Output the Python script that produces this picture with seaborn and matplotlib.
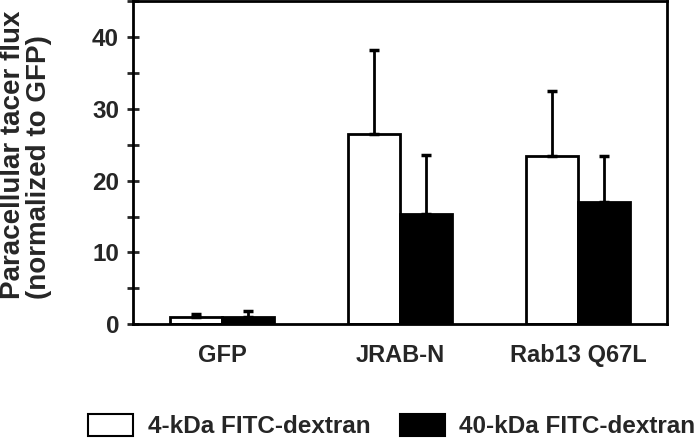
import pandas as pd
import numpy as np
import matplotlib
matplotlib.use("Agg")
import matplotlib.pyplot as plt
import seaborn as sns
from matplotlib.patches import Patch
from matplotlib.ticker import MultipleLocator

# data
groups = ["GFP", "JRAB-N", "Rab13 Q67L"]
series = ["4-kDa FITC-dextran", "40-kDa FITC-dextran"]
flux_4kda = [1.0, 26.5, 23.5]
flux_40kda = [1.0, 15.4, 17.0]
err_4kda = [0.4, 11.7, 9.0]
err_40kda = [0.9, 8.2, 6.5]

df = pd.DataFrame({
    "group": groups * 2,
    "tracer": [series[0]] * 3 + [series[1]] * 3,
    "flux": flux_4kda + flux_40kda,
    "err": err_4kda + err_40kda,
})

sns.set_style("white")
plt.rcParams["font.family"] = ["Liberation Sans", "DejaVu Sans"]
plt.rcParams["font.weight"] = "bold"

fig = plt.figure(figsize=(7, 4.41), dpi=100)
ax = fig.add_axes([0.19, 0.265, 0.763, 0.732])

sns.barplot(data=df, x="group", y="flux", hue="tracer", hue_order=series,
            palette=["white", "black"], edgecolor="black", linewidth=2,
            width=0.58, errorbar=None, legend=False, ax=ax)

# upward-only error bars at each bar centre
for bar, (_, row) in zip(ax.patches, df.iterrows()):
    xc = bar.get_x() + bar.get_width() / 2
    ax.errorbar(xc, row["flux"], yerr=[[0], [row["err"]]], fmt="none",
                ecolor="black", elinewidth=2, capsize=3.5, capthick=2.5, zorder=1)

ax.set_xlim(-0.5, 2.5)
ax.set_ylim(0, 45)
ax.yaxis.set_major_locator(MultipleLocator(10))
ax.yaxis.set_minor_locator(MultipleLocator(5))
ax.tick_params(axis="y", which="both", direction="inout", length=8, width=2,
               left=True, labelsize=17.5, pad=6)
ax.tick_params(axis="x", length=0, labelsize=17, pad=14)
for lab in ax.get_xticklabels() + ax.get_yticklabels():
    lab.set_fontweight("bold")
for sp in ax.spines.values():
    sp.set_linewidth(2)
    sp.set_color("black")

ax.set_xlabel("")
ax.set_ylabel("Paracellular tacer flux\n(normalized to GFP)", fontsize=20,
              fontweight="bold", linespacing=1.0, multialignment="left")
ax.yaxis.set_label_coords(-0.151, 0.525)

handles = [Patch(facecolor="white", edgecolor="black", linewidth=1.5),
           Patch(facecolor="black", edgecolor="black", linewidth=1.5)]
fig.legend(handles, series, loc="center", bbox_to_anchor=(0.56, 1 - 426 / 441),
           ncol=2, frameon=False, handlelength=1.85, handleheight=1.03,
           handletextpad=0.6, columnspacing=1.2,
           prop={"family": "Liberation Sans", "weight": "bold", "size": 17.5})

fig.savefig("out.png", dpi=100)
